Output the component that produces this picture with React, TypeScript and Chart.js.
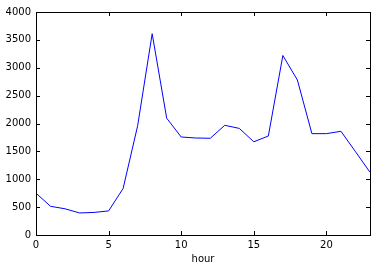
import React, { useEffect, useRef } from "react";
import { Chart, registerables } from "chart.js";

Chart.register(...registerables);

const hours = [0, 1, 2, 3, 4, 5, 6, 7, 8, 9, 10, 11, 12, 13, 14, 15, 16, 17, 18, 19, 20, 21, 22, 23];
const counts = [750, 515, 470, 395, 405, 432, 835, 1960, 3610, 2095, 1758, 1740, 1735, 1968, 1912, 1672, 1776, 3220, 2780, 1818, 1818, 1860, 1495, 1125];
const xTicks = [0, 5, 10, 15, 20];
const yTicks = [0, 500, 1000, 1500, 2000, 2500, 3000, 3500, 4000];
const xLabel = "hour";

const FONT = "'DejaVu Sans', sans-serif";

const boxTicksPlugin = {
  id: "boxTicks",
  afterDraw(chart: any) {
    const { ctx, chartArea } = chart;
    const { left, right, top, bottom } = chartArea;
    const xs = chart.scales.x;
    const ys = chart.scales.y;
    const tl = 4;
    ctx.save();
    ctx.strokeStyle = "#000";
    ctx.lineWidth = 1;
    ctx.beginPath();
    for (const v of xTicks) {
      const px = Math.round(xs.getPixelForValue(v)) + 0.5;
      ctx.moveTo(px, bottom);
      ctx.lineTo(px, bottom - tl);
      ctx.moveTo(px, top);
      ctx.lineTo(px, top + tl);
    }
    for (const v of yTicks) {
      const py = Math.round(ys.getPixelForValue(v)) + 0.5;
      ctx.moveTo(left, py);
      ctx.lineTo(left + tl, py);
      ctx.moveTo(right, py);
      ctx.lineTo(right - tl, py);
    }
    ctx.stroke();
    ctx.strokeRect(Math.round(left) + 0.5, Math.round(top) + 0.5, Math.round(right - left), Math.round(bottom - top));
    ctx.restore();
  },
};

export default function App() {
  const ref = useRef<HTMLCanvasElement>(null);
  useEffect(() => {
    if (!ref.current) return;
    const chart = new Chart(ref.current, {
      type: "line",
      data: {
        datasets: [
          {
            data: hours.map((h, i) => ({ x: h, y: counts[i] })),
            borderColor: "#0000ff",
            borderWidth: 1,
            pointRadius: 0,
            tension: 0,
            fill: false,
          },
        ],
      },
      options: {
        animation: false,
        responsive: false,
        maintainAspectRatio: false,
        layout: { padding: { top: 12, right: 7, left: 0, bottom: 0 } },
        plugins: { legend: { display: false }, tooltip: { enabled: false } },
        scales: {
          x: {
            type: "linear",
            min: 0,
            max: 23,
            grid: { display: false, drawTicks: false },
            border: { display: false },
            afterBuildTicks: (s: any) => {
              s.ticks = xTicks.map((v) => ({ value: v }));
            },
            afterFit: (s: any) => {
              s.height = 36;
            },
            ticks: {
              color: "#000",
              font: { family: FONT, size: 10 },
              padding: 4,
              maxRotation: 0,
              autoSkip: false,
              callback: (v: any) => String(v),
            },
            title: {
              display: true,
              text: xLabel,
              color: "#000",
              font: { family: FONT, size: 10 },
              padding: { top: 0, bottom: 6 },
            },
          },
          y: {
            type: "linear",
            min: 0,
            max: 4000,
            grid: { display: false, drawTicks: false },
            border: { display: false },
            afterBuildTicks: (s: any) => {
              s.ticks = yTicks.map((v) => ({ value: v }));
            },
            afterFit: (s: any) => {
              s.width = 36;
            },
            ticks: {
              color: "#000",
              font: { family: FONT, size: 10 },
              padding: 5,
              autoSkip: false,
              callback: (v: any) => String(v),
            },
          },
        },
      },
      plugins: [boxTicksPlugin],
    });
    return () => chart.destroy();
  }, []);
  return (
    <div style={{ position: "absolute", left: 0, top: 0, width: 377, height: 271, background: "#fff" }}>
      <canvas ref={ref} width={377} height={271} style={{ display: "block", width: 377, height: 271 }} />
    </div>
  );
}
